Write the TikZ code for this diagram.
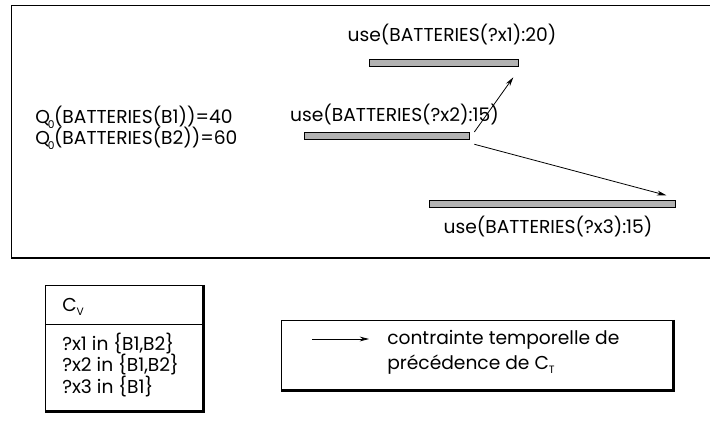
\documentclass[tikz,border=0pt]{standalone}
\usepackage{fontspec}
\setmainfont{Poppins}
\usetikzlibrary{arrows.meta,calc}
\tikzset{
  txt/.style={inner sep=0pt, font=\fontsize{14}{16}\selectfont},
  bar/.style={draw=black, line width=1pt, fill=gray!60, minimum height=5.2pt, inner sep=0pt, anchor=north west},
  prec/.style={-{Stealth[length=7pt,width=3.6pt]}, line width=0.6pt},
  frame/.style={draw=black, line width=0.6pt},
  shadow/.style={draw=black, line width=2.2pt},
}
\newcommand{\zsub}{\kern-1.5pt\raisebox{-4pt}{\fontsize{8}{8}\selectfont 0}\kern-0.5pt}
\newcommand{\smallsub}[1]{\raisebox{-3pt}{\fontsize{8}{8}\selectfont #1}}
\begin{document}
\begin{tikzpicture}[x=0.75pt,y=-0.75pt]
\useasboundingbox (0,0) rectangle (710,423);
% main frame
\draw[frame] (11,257) -- (11,5) -- (710,5);
\draw[shadow] (11,258) -- (710,258);
% bars
\node[bar, minimum width=111.75pt] (b1) at (369,59) {};
\node[bar, minimum width=123.75pt] (b2) at (304,132) {};
\node[bar, minimum width=184.5pt] (b3) at (429,200) {};
% bar labels
\node[txt] (l1) at (452,35) {use(BATTERIES(?x1):20)};
\node[txt] (l2) at (394.5,115) {use(BATTERIES(?x2):15)};
\node[txt] (l3) at (548,227) {use(BATTERIES(?x3):15)};
% initial quantities
\node[txt, anchor=west] (q1) at (35,117) {Q\zsub(BATTERIES(B1))=40};
\node[txt, anchor=west] (q2) at (35,138) {Q\zsub(BATTERIES(B2))=60};
% precedence arrows
\coordinate (s1) at ($(b2.north east)+(3pt,0)$);
\coordinate (e1) at ($(b1.south east)+(-4.5pt,-7.5pt)$);
\draw[prec] (s1) -- (e1);
\coordinate (s2) at ($(b2.south east)+(3pt,-3pt)$);
\coordinate (e2) at ($(b3.north east)+(-7.5pt,3.5pt)$);
\draw[prec] (s2) -- (e2);
% C_V box
\draw[frame] (45,410) -- (45,285) -- (202,285);
\draw[shadow] (203.5,285) -- (203.5,411.5) -- (45,411.5);
\draw[frame] (45,324) -- (202,324);
\node[txt, anchor=west] (cv) at (62,307) {C\smallsub{V}};
\node[txt, anchor=west] (v1) at (62,344) {?x1 in \{B1,B2\}};
\node[txt, anchor=west] (v2) at (62,365) {?x2 in \{B1,B2\}};
\node[txt, anchor=west] (v3) at (62,387) {?x3 in \{B1\}};
% legend box
\draw[frame] (281,389) -- (281,320) -- (672,320);
\draw[shadow] (673.5,320) -- (673.5,390.5) -- (281,390.5);
\coordinate (la) at (312,339);
\coordinate (lb) at (369,339);
\draw[prec] (la) -- (lb);
\node[txt, anchor=west] (lt1) at (387,340) {contrainte temporelle de};
\node[txt, anchor=west] (lt2) at (387,365) {précédence de C\smallsub{T}};
\end{tikzpicture}
\end{document}
